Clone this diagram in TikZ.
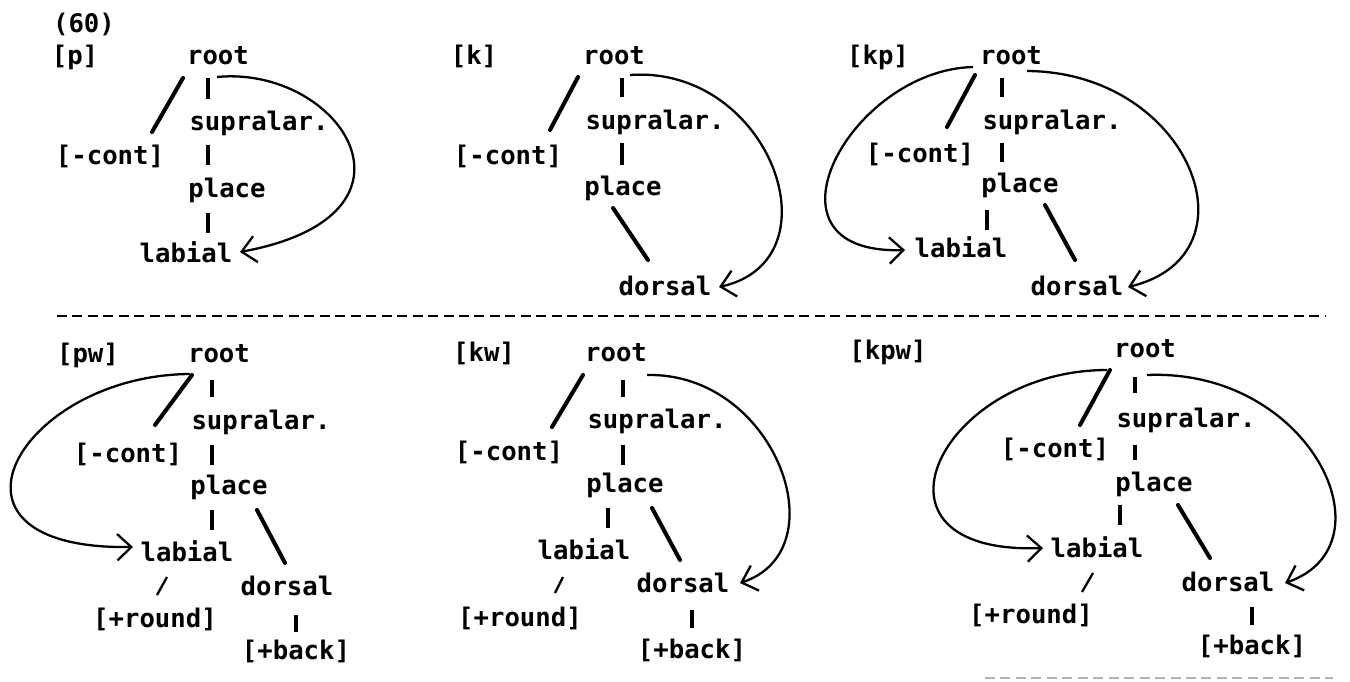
\documentclass[tikz,border=0pt]{standalone}
\usepackage{fontspec}
\setmonofont{DejaVu Sans Mono}
\usepackage{tikz}
\usetikzlibrary{arrows.meta,calc}

\begin{document}
\begin{tikzpicture}[x=0.02cm,y=-0.02cm,
   font=\ttfamily\bfseries\fontsize{14.6}{17}\selectfont,
   tx/.style={inner sep=0pt,text height=8pt,text depth=0pt},
   bar/.style={line width=2pt},
   slash/.style={line width=2.3pt,line cap=round},
   tick/.style={line width=1.3pt},
   arc/.style={line width=1.3pt,-{Straight Barb[length=8pt,width=15pt]}},
   rule/.style={line width=1.6pt,dash pattern=on 5.7pt off 3.1pt}]
  \useasboundingbox (0,0) rectangle (1350,681);
  \node[tx] (n60) at (84,25){(60)};
  % [p]
  \node[tx] (pLbl) at (75,57){[p]};
  \node[tx] (pRoot) at (218,57){root};
  \node[tx] (pSup) at (259,123){supralar.};
  \node[tx] (pCont) at (110,157){[-cont]};
  \node[tx] (pPlace) at (227,190){place};
  \node[tx] (pLab) at (186,255){labial};
  \draw[slash] ($(pRoot)+(-35,21)$) -- ($(pCont)+(42,-25)$);
  \draw[bar] ($(pRoot)+(-10,21)$) -- ($(pSup)+(-51,-24)$);
  \draw[bar] ($(pSup)+(-51,22)$) -- ($(pPlace)+(-19,-25)$);
  \draw[bar] ($(pPlace)+(-19,23)$) -- ($(pLab)+(22,-22)$);
  \draw[arc] ($(pRoot)+(-1,20)$) .. controls +(123,-12) and +(200,-37) .. ($(pLab)+(54,-3)$);
  % [k]
  \node[tx] (kLbl) at (474,57){[k]};
  \node[tx] (kRoot) at (614,57){root};
  \node[tx] (kSup) at (655,122){supralar.};
  \node[tx] (kCont) at (508,157){[-cont]};
  \node[tx] (kPlace) at (623,188){place};
  \node[tx] (kDor) at (665,288){dorsal};
  \draw[slash] ($(kRoot)+(-36,20)$) -- ($(kCont)+(42,-27)$);
  \draw[bar] ($(kRoot)+(8,21)$) -- ($(kSup)+(-33,-25)$);
  \draw[bar] ($(kSup)+(-33,21)$) -- ($(kPlace)+(-1,-23)$);
  \draw[slash] ($(kPlace)+(-10,20)$) -- ($(kDor)+(-17,-28)$);
  \draw[arc] ($(kRoot)+(16,18)$) .. controls +(140,-10) and +(121,-27) .. ($(kDor)+(54,-1)$);
  % [kp]
  \node[tx] (kpLbl) at (878,57){[kp]};
  \node[tx] (kpRoot) at (1011,57){root};
  \node[tx] (kpSup) at (1052,122){supralar.};
  \node[tx] (kpCont) at (920,155){[-cont]};
  \node[tx] (kpPlace) at (1020,185){place};
  \node[tx] (kpLab) at (961,250){labial};
  \node[tx] (kpDor) at (1077,288){dorsal};
  \draw[slash] ($(kpRoot)+(-36,18)$) -- ($(kpCont)+(27,-28)$);
  \draw[bar] ($(kpRoot)+(-9,21)$) -- ($(kpSup)+(-50,-25)$);
  \draw[bar] ($(kpSup)+(-50,21)$) -- ($(kpPlace)+(-18,-23)$);
  \draw[bar] ($(kpPlace)+(-33,25)$) -- ($(kpLab)+(26,-20)$);
  \draw[slash] ($(kpPlace)+(25,20)$) -- ($(kpDor)+(-2,-28)$);
  \draw[arc] ($(kpRoot)+(-38,10)$) .. controls +(-123,3) and +(-155,5) .. ($(kpLab)+(-56,0)$);
  \draw[arc] ($(kpRoot)+(16,14)$) .. controls +(163,1) and +(133,-32) .. ($(kpDor)+(51,-1)$);
  % separator
  \draw[rule] (57,316) -- (1325,316);
  % [pw]
  \node[tx] (pwLbl) at (88,355){[pw]};
  \node[tx] (pwRoot) at (219,355){root};
  \node[tx] (pwSup) at (261,422){supralar.};
  \node[tx] (pwCont) at (128,455){[-cont]};
  \node[tx] (pwPlace) at (229,487){place};
  \node[tx] (pwLab) at (187,554){labial};
  \node[tx] (pwDor) at (287,588){dorsal};
  \node[tx] (pwRnd) at (155,620){[+round]};
  \node[tx] (pwBack) at (296,652){[+back]};
  \draw[slash] ($(pwRoot)+(-27,20)$) -- ($(pwCont)+(27,-30)$);
  \draw[bar] ($(pwRoot)+(-7,25)$) -- ($(pwSup)+(-49,-25)$);
  \draw[bar] ($(pwSup)+(-49,23)$) -- ($(pwPlace)+(-17,-22)$);
  \draw[bar] ($(pwPlace)+(-17,23)$) -- ($(pwLab)+(25,-24)$);
  \draw[slash] ($(pwPlace)+(28,23)$) -- ($(pwDor)+(-2,-25)$);
  \draw[tick] ($(pwLab)+(-20,23)$) -- ($(pwRnd)+(2,-25)$);
  \draw[bar] ($(pwDor)+(9,27)$) -- ($(pwBack)+(0,-20)$);
  \draw[arc] ($(pwRoot)+(-29,19)$) .. controls +(-170,1) and +(-215,3) .. ($(pwLab)+(-54,-7)$);
  % [kw]
  \node[tx] (kwLbl) at (484,354){[kw]};
  \node[tx] (kwRoot) at (616,354){root};
  \node[tx] (kwSup) at (657,421){supralar.};
  \node[tx] (kwCont) at (509,453){[-cont]};
  \node[tx] (kwPlace) at (625,485){place};
  \node[tx] (kwLab) at (584,552){labial};
  \node[tx] (kwDor) at (683,585){dorsal};
  \node[tx] (kwRnd) at (520,619){[+round]};
  \node[tx] (kwBack) at (692,651){[+back]};
  \draw[slash] ($(kwRoot)+(-33,21)$) -- ($(kwCont)+(43,-26)$);
  \draw[bar] ($(kwRoot)+(7,26)$) -- ($(kwSup)+(-34,-24)$);
  \draw[bar] ($(kwSup)+(-34,24)$) -- ($(kwPlace)+(-2,-20)$);
  \draw[bar] ($(kwPlace)+(-17,23)$) -- ($(kwLab)+(24,-24)$);
  \draw[slash] ($(kwPlace)+(27,23)$) -- ($(kwDor)+(-3,-25)$);
  \draw[tick] ($(kwLab)+(-21,25)$) -- ($(kwRnd)+(35,-26)$);
  \draw[bar] ($(kwDor)+(9,25)$) -- ($(kwBack)+(0,-23)$);
  \draw[arc] ($(kwRoot)+(31,21)$) .. controls +(128,-3) and +(100,-33) .. ($(kwDor)+(57,-2)$);
  % [kpw]
  \node[tx] (kpwLbl) at (888,352){[kpw]};
  \node[tx] (kpwRoot) at (1145,350){root};
  \node[tx] (kpwSup) at (1186,420){supralar.};
  \node[tx] (kpwCont) at (1055,450){[-cont]};
  \node[tx] (kpwPlace) at (1154,484){place};
  \node[tx] (kpwLab) at (1097,550){labial};
  \node[tx] (kpwDor) at (1228,584){dorsal};
  \node[tx] (kpwRnd) at (1031,616){[+round]};
  \node[tx] (kpwBack) at (1252,647){[+back]};
  \draw[slash] ($(kpwRoot)+(-35,20)$) -- ($(kpwCont)+(25,-25)$);
  \draw[bar] ($(kpwRoot)+(-10,27)$) -- ($(kpwSup)+(-51,-27)$);
  \draw[bar] ($(kpwSup)+(-51,25)$) -- ($(kpwPlace)+(-19,-24)$);
  \draw[bar] ($(kpwPlace)+(-34,21)$) -- ($(kpwLab)+(23,-25)$);
  \draw[slash] ($(kpwPlace)+(24,21)$) -- ($(kpwDor)+(-18,-26)$);
  \draw[tick] ($(kpwLab)+(-4,23)$) -- ($(kpwRnd)+(51,-24)$);
  \draw[bar] ($(kpwDor)+(24,23)$) -- ($(kpwBack)+(0,-22)$);
  \draw[arc] ($(kpwRoot)+(-38,20)$) .. controls +(-167,0) and +(-193,7) .. ($(kpwLab)+(-54,-2)$);
  \draw[arc] ($(kpwRoot)+(2,25)$) .. controls +(163,-7) and +(110,-38) .. ($(kpwDor)+(57,-1)$);
  % faint rule at the foot
  \draw[rule,gray!60,line width=1pt] (985,678) -- (1333,678);
\end{tikzpicture}
\end{document}
